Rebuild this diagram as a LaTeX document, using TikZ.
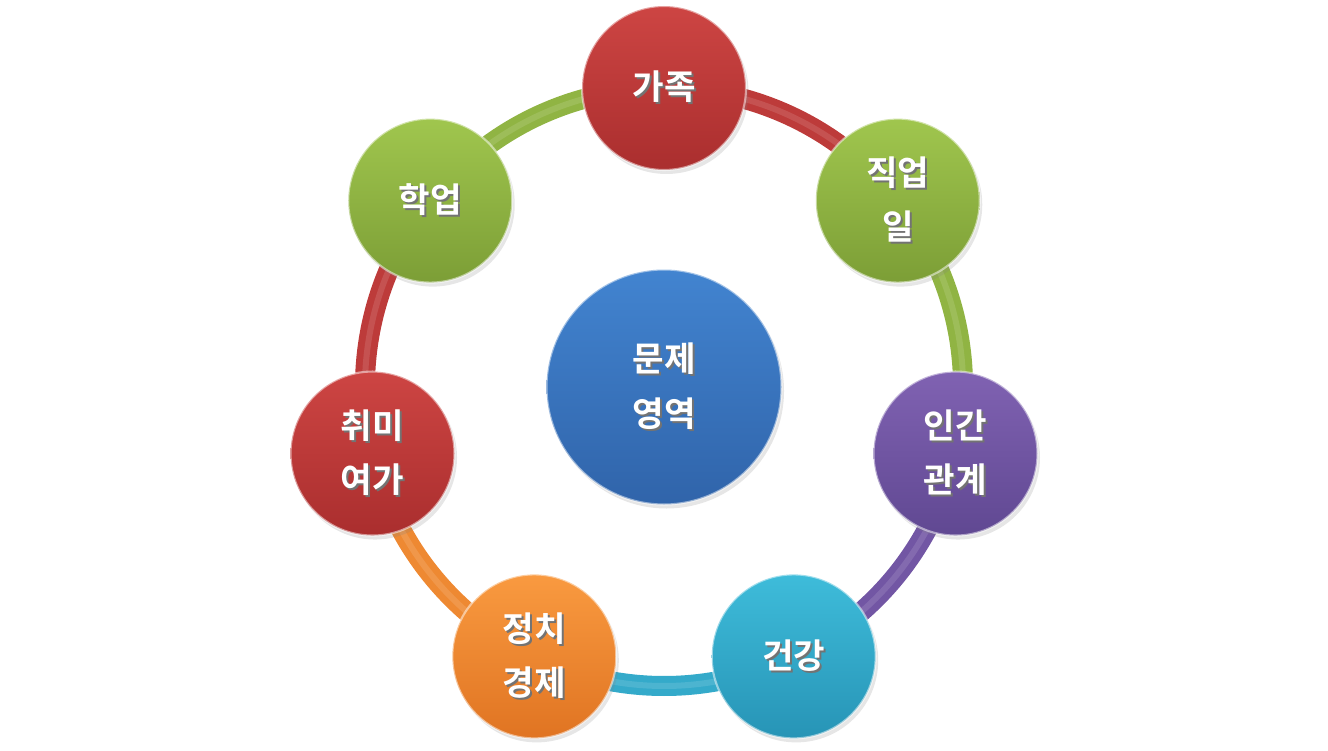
\documentclass[tikz,border=0pt]{standalone}
\usepackage{fontspec}
\setmainfont{Noto Sans CJK KR}[BoldFont={Noto Sans CJK KR Bold}]
\usetikzlibrary{shadows}

\pgfdeclarelayer{bg}
\pgfsetlayers{bg,main}

\definecolor{redtop}{HTML}{CD4543}
\definecolor{redbot}{HTML}{AA2E2E}
\definecolor{greentop}{HTML}{A0C64E}
\definecolor{greenbot}{HTML}{7C9E36}
\definecolor{purpletop}{HTML}{8062B2}
\definecolor{purplebot}{HTML}{604892}
\definecolor{cyantop}{HTML}{3EBCDA}
\definecolor{cyanbot}{HTML}{2794B6}
\definecolor{orangetop}{HTML}{F99A40}
\definecolor{orangebot}{HTML}{E07422}
\definecolor{bluetop}{HTML}{4284D0}
\definecolor{bluebot}{HTML}{3064AA}

% text with a soft shadow
\newcommand\ts[1]{\makebox[0pt][l]{\hspace{.04cm}\raisebox{-.04cm}{\textcolor{black!55}{#1}}}#1}

\tikzset{
  ball/.style={circle, minimum size=3.28cm, inner sep=0pt,
    top color=#1top, bottom color=#1bot,
    draw=white, draw opacity=.5, line width=1.2pt,
    drop shadow={opacity=.2, shadow xshift=.05cm, shadow yshift=-.08cm},
    text=white, align=center,
    font=\bfseries\fontsize{19.5}{31}\selectfont},
  tube/.style={draw=#1top!55!#1bot, line width=.4cm,
    postaction={draw=white, draw opacity=.12, line width=.12cm}},
}

\begin{document}
\begin{tikzpicture}[x=1cm,y=1cm]
  \useasboundingbox (0,0) rectangle (26.56,15);
  \coordinate (c) at (13.28,7.26);

  \node[ball=blue, minimum size=4.7cm] (area) at (c) {\ts{문제}\\\ts{영역}};

  \node[ball=red]    (family)   at ([shift={(90:5.98)}]c)     {\ts{가족}};
  \node[ball=green]  (job)      at ([shift={(38.57:5.98)}]c)  {\ts{직업}\\\ts{일}};
  \node[ball=purple] (relation) at ([shift={(-12.86:5.98)}]c) {\ts{인간}\\\ts{관계}};
  \node[ball=cyan]   (health)   at ([shift={(-64.29:5.98)}]c) {\ts{건강}};
  \node[ball=orange] (economy)  at ([shift={(-115.71:5.98)}]c){\ts{정치}\\\ts{경제}};
  \node[ball=red]    (hobby)    at ([shift={(-167.14:5.98)}]c){\ts{취미}\\\ts{여가}};
  \node[ball=green]  (study)    at ([shift={(141.43:5.98)}]c) {\ts{학업}};

  % ring behind the balls
  \begin{pgfonlayer}{bg}
    \draw[tube=red]    (family.center)   to[bend left=25.7,looseness=.9] (job.center);
    \draw[tube=green]  (job.center)      to[bend left=25.7,looseness=.9] (relation.center);
    \draw[tube=purple] (relation.center) to[bend left=25.7,looseness=.9] (health.center);
    \draw[tube=cyan]   (health.center)   to[bend left=25.7,looseness=.9] (economy.center);
    \draw[tube=orange] (economy.center)  to[bend left=25.7,looseness=.9] (hobby.center);
    \draw[tube=red]    (hobby.center)    to[bend left=25.7,looseness=.9] (study.center);
    \draw[tube=green]  (study.center)    to[bend left=25.7,looseness=.9] (family.center);
  \end{pgfonlayer}
\end{tikzpicture}
\end{document}
